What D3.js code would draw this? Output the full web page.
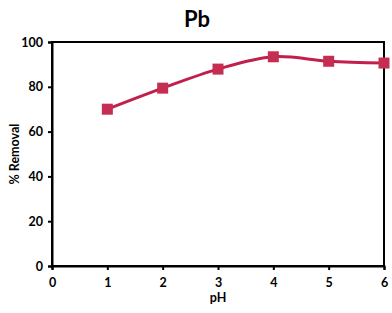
<!DOCTYPE html>
<html><head><meta charset="utf-8">
<script src="https://cdn.jsdelivr.net/npm/d3@7"></script>
<style>body{margin:0;background:#fff}svg{display:block}</style>
</head><body>
<svg id="c" width="392" height="313"></svg>
<script>
const title = "Pb";
const phValues = [1, 2, 3, 4, 5, 6];
const removal = [70, 79.4, 87.9, 93.4, 91.4, 90.6];
const xTicks = [0, 1, 2, 3, 4, 5, 6];
const yTicks = [0, 20, 40, 60, 80, 100];
const xLabel = "pH";
const yLabel = "% Removal";

const svg = d3.select("#c");
const L = 52, R = 384, T = 42, B = 266;
const x = d3.scaleLinear().domain([0, 6]).range([L, R]);
const y = d3.scaleLinear().domain([0, 100]).range([B, T]);
const font = "Lato, 'Open Sans', sans-serif";

svg.append("text").attr("x", 197).attr("y", 27).attr("text-anchor", "middle")
  .attr("font-family", font).attr("font-weight", "bold").attr("font-size", 22).text(title);

// frame
svg.append("rect").attr("x", L).attr("y", T).attr("width", R - L).attr("height", B - T)
  .attr("fill", "none").attr("stroke", "#000").attr("stroke-width", 2);

const xAxis = svg.append("g").attr("transform", `translate(0,${B})`)
  .call(d3.axisBottom(x).tickValues(xTicks).tickSize(4).tickPadding(8).tickFormat(d3.format("d")));
const yAxis = svg.append("g").attr("transform", `translate(${L},0)`)
  .call(d3.axisLeft(y).tickValues(yTicks).tickSize(4).tickPadding(5).tickFormat(d3.format("d")));
[xAxis, yAxis].forEach(g => {
  g.select(".domain").attr("stroke", "#000").attr("stroke-width", 2);
  g.selectAll(".tick line").attr("stroke", "#000").attr("stroke-width", 2);
  g.selectAll(".tick text").attr("font-family", font).attr("font-weight", "bold")
    .attr("font-size", 12.5).attr("fill", "#000");
});

svg.append("text").attr("x", 218).attr("y", 302).attr("text-anchor", "middle")
  .attr("font-family", font).attr("font-weight", "bold").attr("font-size", 12.5).text(xLabel);
svg.append("text").attr("transform", "translate(19,154) rotate(-90)").attr("text-anchor", "middle")
  .attr("font-family", font).attr("font-weight", "bold").attr("font-size", 12.5).text(yLabel);

const data = phValues.map((p, i) => ({p, v: removal[i]}));
const line = d3.line().x(d => x(d.p)).y(d => y(d.v)).curve(d3.curveCatmullRom.alpha(0.5));
svg.append("path").datum(data).attr("d", line).attr("fill", "none")
  .attr("stroke", "#C0204A").attr("stroke-width", 3);
const s = 11;
svg.selectAll(".m").data(data).enter().append("rect")
  .attr("x", d => x(d.p) - s / 2).attr("y", d => y(d.v) - s / 2)
  .attr("width", s).attr("height", s).attr("fill", "#C62D52");
</script>
</body></html>
